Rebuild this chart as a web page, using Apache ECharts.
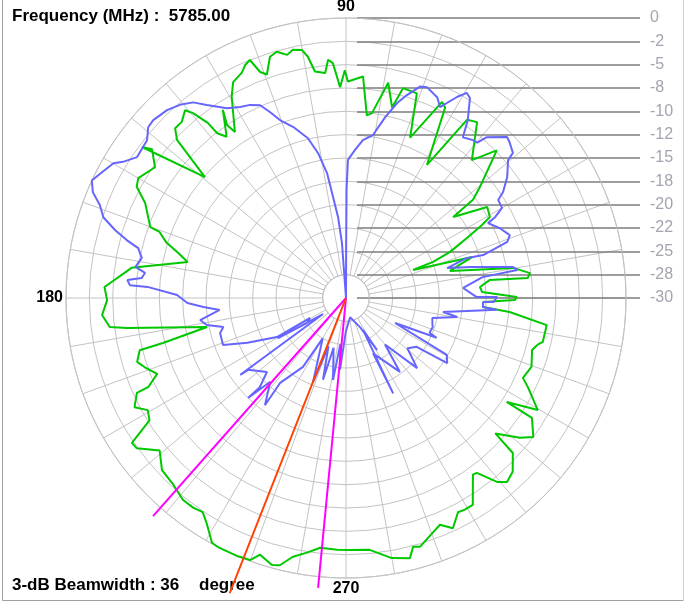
<!DOCTYPE html>
<html>
<head>
<meta charset="utf-8">
<script src="https://cdn.jsdelivr.net/npm/echarts@6/dist/echarts.min.js"></script>
<style>
html,body{margin:0;padding:0;background:#fff;}
#chart{width:685px;height:604px;}
</style>
</head>
<body>
<div id="chart"></div>
<script>
// ---- data: [angle (deg), level (dB)] in drawing order ----
const greenPattern = [
[346.2,-8.9],[347.4,-8.4],[352.3,-8.3],[355.1,-12.4],[356.2,-15.3],[358.3,-15.3],[359.3,-11.9],[0.3,-11.7],[2.5,-15.4],[4.7,-15.6],[7.1,-14.5],[6.3,-10.4],[7.7,-10.1],[10.2,-11.8],[14.6,-18.5],[18.0,-15.8],[22.7,-22.2],[22.5,-19.9],[23.9,-17.8],[26.4,-15.5],[28.2,-13.5],[29.4,-12.3],[32.8,-12.0],[37.1,-15.6],[37.7,-12.8],[39.6,-11.4],[44.4,-7.4],[47.6,-10.0],[53.3,-6.5],[55.8,-6.9],[58.7,-13.3],[62.5,-7.0],[63.9,-6.6],[68.2,-11.5],[70.9,-6.8],[74.8,-6.7],[76.4,-9.0],[78.9,-6.5],[82.0,-10.0],[83.5,-10.3],[85.6,-6.2],[89.5,-6.8],[90.3,-5.6],[91.6,-7.4],[93.2,-4.8],[94.3,-4.4],[95.3,-5.8],[97.8,-5.5],[99.0,-3.8],[100.1,-3.0],[102.1,-2.8],[103.6,-3.2],[105.7,-2.6],[107.5,-2.9],[109.5,-4.6],[110.8,-4.1],[112.0,-2.5],[113.4,-2.8],[114.8,-3.4],[117.6,-3.9],[119.6,-5.2],[123.8,-8.6],[124.5,-7.5],[123.2,-5.9],[126.5,-8.5],[128.0,-7.6],[128.3,-6.1],[129.6,-4.3],[130.6,-3.5],[133.0,-4.2],[135.2,-4.2],[136.9,-5.2],[139.4,-10.1],[143.5,-2.8],[142.5,-3.8],[145.6,-5.2],[150.0,-4.3],[152.0,-4.6],[154.7,-6.2],[160.1,-7.7],[160.5,-8.8],[162.9,-9.9],[165.0,-11.4],[167.2,-12.6],[172.0,-6.8],[177.4,-4.1],[180.5,-4.4],[184.0,-3.8],[187.0,-4.5],[187.8,-6.3],[191.8,-14.8],[193.8,-9.8],[194.2,-7.2],[197.0,-6.6],[199.0,-7.2],[201.9,-8.2],[204.2,-6.8],[204.4,-5.4],[207.3,-4.5],[209.5,-5.6],[211.9,-5.2],[214.1,-2.3],[215.7,-2.4],[219.3,-4.2],[223.1,-3.0],[226.8,-2.8],[231.1,-2.2],[233.9,-2.2],[236.2,-2.4],[238.3,-1.6],[241.3,-0.1],[242.8,0],[247.3,0],[249.9,-0.1],[251.5,-1.0],[254.5,-0.3],[256.1,-0.5],[258.4,-1.7],[261.3,-2.4],[264.1,-3.1],[268.0,-3.0],[270.9,-3.0],[275.4,-2.9],[278.2,-2.2],[280.0,-1.7],[283.8,-1.3],[285.1,-2.4],[286.6,-2.2],[290.3,-3.2],[292.5,-3.7],[294.9,-2.8],[297.6,-4.1],[299.3,-4.0],[301.5,-4.0],[305.7,-6.7],[306.8,-6.6],[309.4,-4.5],[311.2,-3.8],[313.8,-4.2],[317.1,-5.6],[317.8,-8.4],[321.2,-6.1],[323.4,-5.0],[327.2,-6.3],[327.1,-9.5],[329.7,-6.2],[333.9,-8.3],[335.7,-9.2],[339.6,-8.8],[344.4,-9.3],[346.2,-8.9]
];
const bluePattern = [
[342.6,-20.3],[346.9,-20.5],[350.3,-17.9],[351.8,-19.5],[355.5,-13.8],[356.2,-15.3],[358.3,-15.3],[358.4,-14.2],[0.4,-13.8],[0.4,-16.0],[4.9,-17.4],[8.7,-15.2],[9.3,-11.4],[10.5,-11.8],[13.8,-16.1],[16.5,-18.7],[18.3,-16.4],[17.4,-14.6],[19.2,-11.7],[21.0,-11.2],[24.4,-11.9],[27.8,-12.8],[28.5,-11.8],[30.0,-10.7],[32.8,-10.6],[34.0,-9.7],[36.9,-8.4],[40.4,-7.2],[41.0,-6.3],[43.6,-5.8],[45.0,-5.6],[48.8,-7.1],[49.8,-8.2],[51.2,-8.3],[54.0,-8.7],[55.6,-6.9],[58.2,-4.8],[59.5,-4.5],[61.1,-5.4],[63.8,-7.2],[65.5,-6.4],[69.0,-5.8],[70.7,-6.0],[73.3,-7.3],[75.3,-8.4],[77.8,-10.2],[80.6,-12.3],[83.9,-13.0],[86.5,-14.1],[89.2,-15.2],[89.7,-18.4],[89.8,-24.1],[90,-30],[94.2,-24.1],[95.6,-21.3],[97.3,-19.1],[98.6,-16.5],[100.9,-14.2],[103.4,-12.4],[107.2,-10.8],[110.3,-9.7],[112.2,-8.5],[114.0,-7.4],[116.4,-6.9],[119.0,-6.6],[122.1,-6.0],[125.8,-4.5],[128.0,-3.4],[130.7,-2.7],[133.6,-2.2],[137.3,-1.9],[139.2,-2.0],[141.6,-2.8],[146.0,-3.0],[148.6,-2.0],[149.9,-1.2],[153.1,-0.5],[155.2,0],[157.3,-0.6],[159.3,-1.8],[161.6,-2.6],[163.6,-4.2],[165.2,-5.7],[166.5,-7.1],[168.9,-7.7],[171.6,-7.2],[172.9,-8.3],[174.4,-8.0],[175.3,-6.5],[176.6,-6.8],[176.8,-8.7],[179.0,-11.9],[181.8,-13.0],[183.6,-14.7],[185.4,-16.4],[188.6,-14.2],[191.0,-14.8],[193.3,-16.5],[195.5,-16.0],[200.9,-15.9],[204.4,-18.4],[209.5,-21.5],[209.0,-25.6],[212.7,-25.0],[210.5,-21.5],[215.0,-27.0],[216.0,-16.0],[216.3,-17.0],[223.1,-18.4],[226.0,-16.7],[225.6,-15.0],[227.9,-17.9],[232.9,-15.6],[232.2,-18.5],[238.0,-21.3],[240.0,-25.0],[248.6,-20.3],[250.0,-24.5],[254.3,-20.9],[256.0,-24.5],[261.0,-21.1],[263.0,-25.0],[265.2,-22.3],[270.0,-26.5],[282.0,-27.9],[295.8,-26.5],[300.8,-23.5],[298.0,-26.1],[296.3,-18.6],[296.1,-23.4],[306.1,-20.2],[310.0,-23.5],[315.4,-19.3],[320.7,-21.5],[325.4,-20.8],[327.2,-17.1],[330.6,-17.6],[333.0,-24.1],[336.3,-19.4],[337.4,-20.3],[341.6,-20.2],[342.6,-20.3]
];
// 3-dB beam edges and beam centre (deg), line reach (dB)
const beamEdgeAngles = [228.5, 264.5];
const beamCenterAngle = 248.5;
const beamEdgeReach = 1.2;
const beamCenterReach = 4.0;
const floorDb = -30;
// radial scale tick labels (top to bottom)
const dbTickLabels = ['0','-2','-5','-8','-10','-12','-15','-18','-20','-22','-25','-28','-30'];
const angleLabels = {90:'90',180:'180',270:'270'};
const frequencyText = 'Frequency (MHz) :  5785.00';
const beamwidthText = '3-dB Beamwidth : 36';
const beamUnitText = 'degree';

const chart = echarts.init(document.getElementById('chart'), null, {renderer:'canvas'});
const toPolar = arr => arr.map(p => [p[1], p[0]]);
const gridGray = '#c3c3c3';
const FONT = '"Liberation Sans", Arial, sans-serif';
const C = [346, 298];
const R0 = 280;              // radius of the 0 dB ring
const pxPerDb = R0 / 30;
const dataMax = 4.5;         // data polar reaches a bit past 0 dB

const option = {
  animation: false,
  backgroundColor: '#ffffff',
  polar: [
    { center: C, radius: [pxPerDb * 2.5, R0] },
    { center: C, radius: [0, pxPerDb * (dataMax - floorDb)] }
  ],
  angleAxis: [
    {
      polarIndex: 0, type: 'value', min: 0, max: 360, interval: 10, startAngle: 0, clockwise: false,
      axisLine: { show: true, lineStyle: { color: gridGray, width: 1 } },
      axisTick: { show: false },
      splitLine: { show: true, lineStyle: { color: gridGray, width: 1 } },
      axisLabel: {
        margin: 3, color: '#000', fontWeight: 'bold', fontSize: 16, fontFamily: FONT,
        formatter: v => angleLabels[v] || ''
      }
    },
    { polarIndex: 1, type: 'value', min: 0, max: 360, startAngle: 0, clockwise: false, show: false }
  ],
  radiusAxis: [
    {
      polarIndex: 0, type: 'value', min: -27.5, max: 0, interval: 2.5,
      axisLine: { show: false }, axisTick: { show: false }, axisLabel: { show: false },
      splitLine: { show: true, lineStyle: { color: gridGray, width: 1 } }
    },
    { polarIndex: 1, type: 'value', min: floorDb, max: dataMax, show: false }
  ],
  grid: { left: 357, right: 45, top: 18, height: 280, containLabel: false },
  xAxis: { type: 'value', show: false, min: 0, max: 1 },
  yAxis: {
    type: 'value', position: 'right', min: -30, max: 0, interval: 2.5,
    axisLine: { show: false }, axisTick: { show: false },
    axisLabel: {
      margin: 10, color: '#a4a4b0', fontSize: 16, fontFamily: FONT,
      formatter: v => dbTickLabels[Math.round(-v / 2.5)]
    },
    splitLine: { show: true, lineStyle: { color: '#7d7d7d', width: 1.5 } }
  },
  series: [
    { type: 'line', coordinateSystem: 'polar', polarIndex: 1, data: toPolar(greenPattern), symbol: 'none', clip: false,
      lineStyle: { color: '#00c800', width: 2 }, z: 3 },
    { type: 'line', coordinateSystem: 'polar', polarIndex: 1, data: toPolar(bluePattern), symbol: 'none', clip: false,
      lineStyle: { color: '#6666ff', width: 2 }, z: 4 },
    { type: 'line', coordinateSystem: 'polar', polarIndex: 1, data: [[floorDb, beamEdgeAngles[0]], [beamEdgeReach, beamEdgeAngles[0]]],
      symbol: 'none', clip: false, lineStyle: { color: '#ff00ff', width: 2 }, z: 5 },
    { type: 'line', coordinateSystem: 'polar', polarIndex: 1, data: [[floorDb, beamEdgeAngles[1]], [beamEdgeReach, beamEdgeAngles[1]]],
      symbol: 'none', clip: false, lineStyle: { color: '#ff00ff', width: 2 }, z: 5 },
    { type: 'line', coordinateSystem: 'polar', polarIndex: 1, data: [[floorDb, beamCenterAngle], [beamCenterReach, beamCenterAngle]],
      symbol: 'none', clip: false, lineStyle: { color: '#ff4000', width: 2 }, z: 6 }
  ],
  graphic: [
    { type: 'line', shape: { x1: 2.5, y1: 0, x2: 2.5, y2: 600.5 }, style: { stroke: '#a0a0a0', lineWidth: 1 } },
    { type: 'line', shape: { x1: 2.5, y1: 600.5, x2: 683.5, y2: 600.5 }, style: { stroke: '#a0a0a0', lineWidth: 1 } },
    { type: 'line', shape: { x1: 683.5, y1: 0, x2: 683.5, y2: 600.5 }, style: { stroke: '#d0d0d0', lineWidth: 1 } },
    { type: 'text', left: 12, top: 8, style: { text: frequencyText, fill: '#000', font: 'bold 17px ' + FONT } },
    { type: 'text', left: 12, top: 577, style: { text: beamwidthText, fill: '#000', font: 'bold 17px ' + FONT } },
    { type: 'text', left: 199, top: 577, style: { text: beamUnitText, fill: '#000', font: 'bold 17px ' + FONT } }
  ]
};
chart.setOption(option);
</script>
</body>
</html>
